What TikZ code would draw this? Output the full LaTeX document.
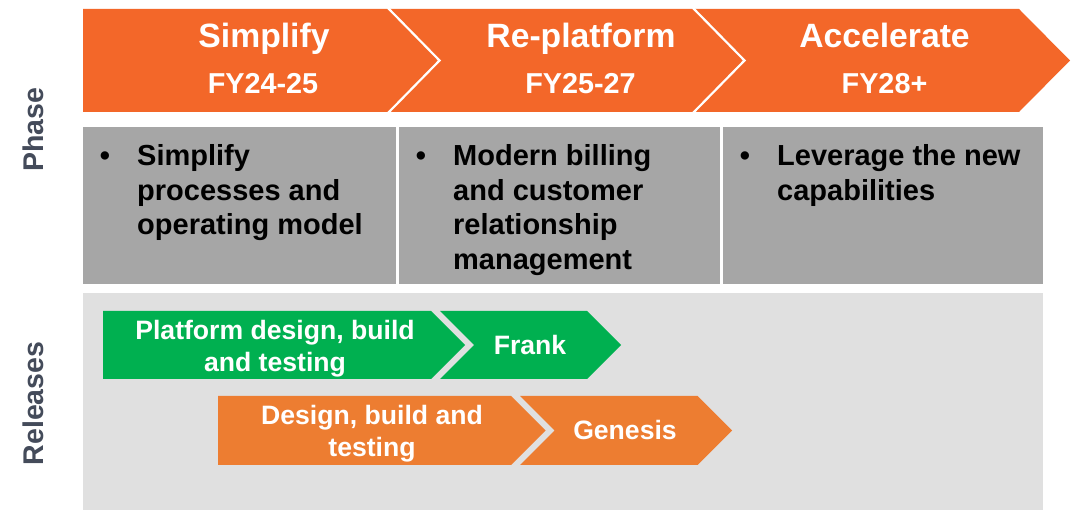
\documentclass[tikz,border=0pt]{standalone}
\usepackage{fontspec}
\setmainfont{Liberation Sans}
\definecolor{banner}{RGB}{243,103,41}
\definecolor{phasegray}{RGB}{166,166,166}
\definecolor{relgray}{RGB}{224,224,224}
\definecolor{relgreen}{RGB}{0,176,80}
\definecolor{relorange}{RGB}{237,125,49}
\definecolor{labelcol}{RGB}{68,75,90}
\begin{document}
\begin{tikzpicture}[x=1pt,y=-1pt,
  title/.style={font=\bfseries\fontsize{33.7}{40}\selectfont, text=white, anchor=base, inner sep=0pt},
  years/.style={font=\bfseries\fontsize{28.8}{35}\selectfont, text=white, anchor=base, inner sep=0pt},
  desc/.style={font=\bfseries\fontsize{29}{34.5}\selectfont, text=black, anchor=base west, inner sep=0pt},
  bul/.style={font=\bfseries\fontsize{29}{34.5}\selectfont, text=black, anchor=base, inner sep=0pt},
  reltext/.style={font=\bfseries\fontsize{26.6}{32}\selectfont, text=white, anchor=base, inner sep=0pt},
  sidelabel/.style={font=\bfseries\fontsize{28.5}{34}\selectfont, text=labelcol, anchor=base, rotate=90, inner sep=0pt},
  sep/.style={draw=white, line width=2.2pt}]
\useasboundingbox (0,0) rectangle (1074,510);

% Phase banner
\fill[banner] (83,9) -- (1019,9) -- (1070,60.5) -- (1019,112) -- (83,112) -- cycle;
\draw[sep] (388,8) -- (439.5,60.5) -- (388,113);
\draw[sep] (693,8) -- (744.5,60.5) -- (693,113);

\node[title] (t1) at (264,47.5) {Simplify};
\node[years] (y1) at (263,93.5) {FY24-25};
\node[title] (t2) at (581,47.5) {Re-platform};
\node[years] (y2) at (580.5,93.5) {FY25-27};
\node[title] (t3) at (884.5,47.5) {Accelerate};
\node[years] (y3) at (884.5,93.5) {FY28+};

% Phase descriptions
\fill[phasegray] (83,127) rectangle (396,284);
\fill[phasegray] (399,127) rectangle (720,284);
\fill[phasegray] (723,127) rectangle (1043,284);

\node[bul] (b1) at (105,166) {•};
\node[desc] (d1a) at (137,166) {Simplify};
\node[desc] (d1b) at (137,200.5) {processes and};
\node[desc] (d1c) at (137,235) {operating model};

\node[bul] (b2) at (421,166) {•};
\node[desc] (d2a) at (453,166) {Modern billing};
\node[desc] (d2b) at (453,200.5) {and customer};
\node[desc] (d2c) at (453,235) {relationship};
\node[desc] (d2d) at (453,269.5) {management};

\node[bul] (b3) at (745,166) {•};
\node[desc] (d3a) at (777,166) {Leverage the new};
\node[desc] (d3b) at (777,200.5) {capabilities};

% Releases area
\fill[relgray] (83,293) rectangle (1043,510);

\fill[relgreen] (103,311) -- (431,311) -- (465,345) -- (431,379) -- (103,379) -- cycle;
\fill[relgreen] (440,311) -- (587,311) -- (621,345) -- (587,379) -- (440,379) -- (474,345) -- cycle;
\node[reltext] (g1a) at (275,339.5) {Platform design, build};
\node[reltext] (g1b) at (275,371.5) {and testing};
\node[reltext] (g2) at (530,354.5) {Frank};

\fill[relorange] (218,396) -- (511,396) -- (545.5,430.5) -- (511,465) -- (218,465) -- cycle;
\fill[relorange] (520,396) -- (697.5,396) -- (732,430.5) -- (697.5,465) -- (520,465) -- (554.5,430.5) -- cycle;
\node[reltext] (o1a) at (372,424.5) {Design, build and};
\node[reltext] (o1b) at (372,456.5) {testing};
\node[reltext] (o2) at (625,439.5) {Genesis};

% Side labels
\node[sidelabel] (phase) at (43,129.5) {Phase};
\node[sidelabel] (releases) at (43,403.5) {Releases};
\end{tikzpicture}
\end{document}
